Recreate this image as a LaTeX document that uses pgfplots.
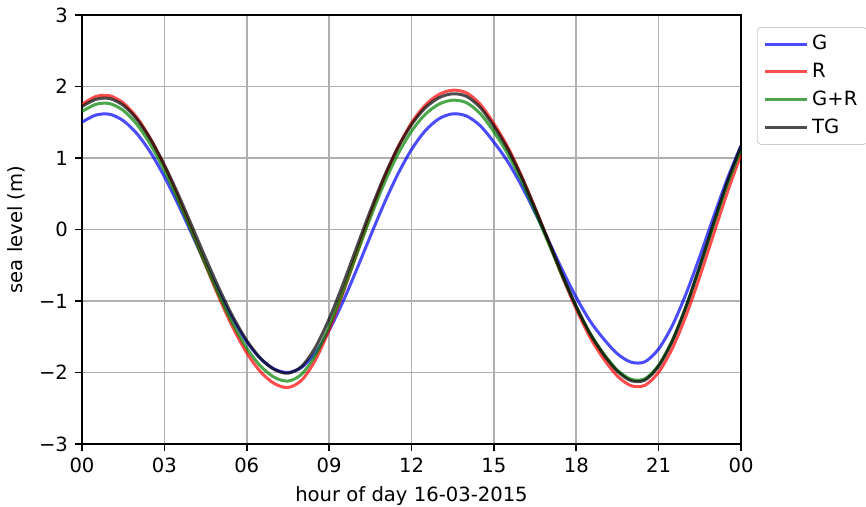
\documentclass[border=0pt]{standalone}
\usepackage{pgfplots}
\pgfplotsset{compat=1.18}
\usepackage{pgfplotstable}
\usepackage{fontspec}
\setmainfont{DejaVu Sans}

% sea level (m) every half hour
\pgfplotstableread{
t     G      R      GR     TG
0     1.500  1.750  1.650  1.720
0.5   1.600  1.860  1.750  1.820
1     1.612  1.871  1.761  1.832
1.5   1.523  1.771  1.666  1.737
2     1.341  1.565  1.470  1.543
2.5   1.075  1.264  1.184  1.260
3     0.739  0.885  0.824  0.904
3.5   0.353  0.449  0.409  0.493
4    -0.063 -0.021 -0.038  0.050
4.5  -0.486 -0.499 -0.493 -0.399
5    -0.893 -0.959 -0.930 -0.832
5.5  -1.261 -1.375 -1.325 -1.224
6    -1.571 -1.725 -1.658 -1.553
6.5  -1.805 -1.989 -1.910 -1.802
7    -1.951 -2.154 -2.067 -1.957
7.5  -2.000 -2.210 -2.120 -2.010
8    -1.929 -2.108 -2.024 -1.914
8.5  -1.725 -1.825 -1.756 -1.648
9    -1.410 -1.403 -1.357 -1.251
9.5  -1.012 -0.891 -0.874 -0.770
10   -0.563 -0.339 -0.353 -0.252
10.5 -0.095  0.207  0.163  0.262
11    0.360  0.711  0.639  0.735
11.5  0.772  1.144  1.049  1.143
12    1.118  1.490  1.375  1.467
12.5  1.381  1.739  1.610  1.701
13    1.549  1.889  1.753  1.843
13.5  1.618  1.948  1.808  1.898
14    1.588  1.912  1.774  1.863
14.5  1.452  1.752  1.622  1.707
15    1.222  1.481  1.366  1.444
15.5  0.952  1.156  1.060  1.129
16    0.617  0.754  0.681  0.740
16.5  0.236  0.299  0.252  0.297
17   -0.165 -0.181 -0.201 -0.168
17.5 -0.573 -0.666 -0.659 -0.639
18   -0.950 -1.115 -1.083 -1.075
18.5 -1.278 -1.506 -1.451 -1.454
19   -1.532 -1.810 -1.738 -1.750
19.5 -1.739 -2.051 -1.967 -1.984
20   -1.856 -2.185 -2.095 -2.115
20.5 -1.850 -2.179 -2.088 -2.107
21   -1.670 -1.996 -1.897 -1.912
21.5 -1.343 -1.661 -1.549 -1.557
22   -0.898 -1.203 -1.077 -1.075
22.5 -0.377 -0.657 -0.523 -0.509
23    0.175 -0.067  0.063  0.090
23.5  0.707  0.517  0.628  0.667
24    1.170  1.049  1.120  1.169
}\tide

\begin{document}
\begin{tikzpicture}
\path[use as bounding box] (-41pt,-31.5pt) rectangle (392pt,222pt);
\begin{axis}[
    at={(0pt,0pt)}, anchor=south west,
    scale only axis, width=329.5pt, height=214.5pt,
    xmin=0, xmax=24, ymin=-3, ymax=3,
    xtick={0,3,...,24},
    xticklabels={00,03,06,09,12,15,18,21,00},
    ytick={-3,-2,...,3},
    yticklabels={−3,−2,−1,0,1,2,3},
    tick align=outside, tick pos=left,
    major tick length=3.5pt,
    tick style={black, line width=0.8pt},
    axis line style={line width=0.8pt},
    grid=major,
    grid style={color=black!31, line width=0.8pt},
    font=\fontsize{9.8}{11.8}\selectfont,
    xlabel={hour of day 16-03-2015},
    ylabel={sea level (m)},
    legend style={at={(1.024,0.972)}, anchor=north west,
        draw=black!20, rounded corners=2pt,
        font=\fontsize{9.8}{11.8}\selectfont,
        row sep=1.2pt, inner xsep=3pt, inner ysep=2pt},
    legend cell align=left,
    legend image code/.code={\draw[#1] (0pt,0pt) -- (21pt,0pt);},
    every axis plot/.append style={line width=1.5pt, draw opacity=0.7, smooth},
]
\addplot[blue] table[x=t, y=G] {\tide};
\addlegendentry{G}
\addplot[red] table[x=t, y=R] {\tide};
\addlegendentry{R}
\addplot[green!50!black] table[x=t, y=GR] {\tide};
\addlegendentry{G+R}
\addplot[black] table[x=t, y=TG] {\tide};
\addlegendentry{TG}
\end{axis}
\end{tikzpicture}
\end{document}
